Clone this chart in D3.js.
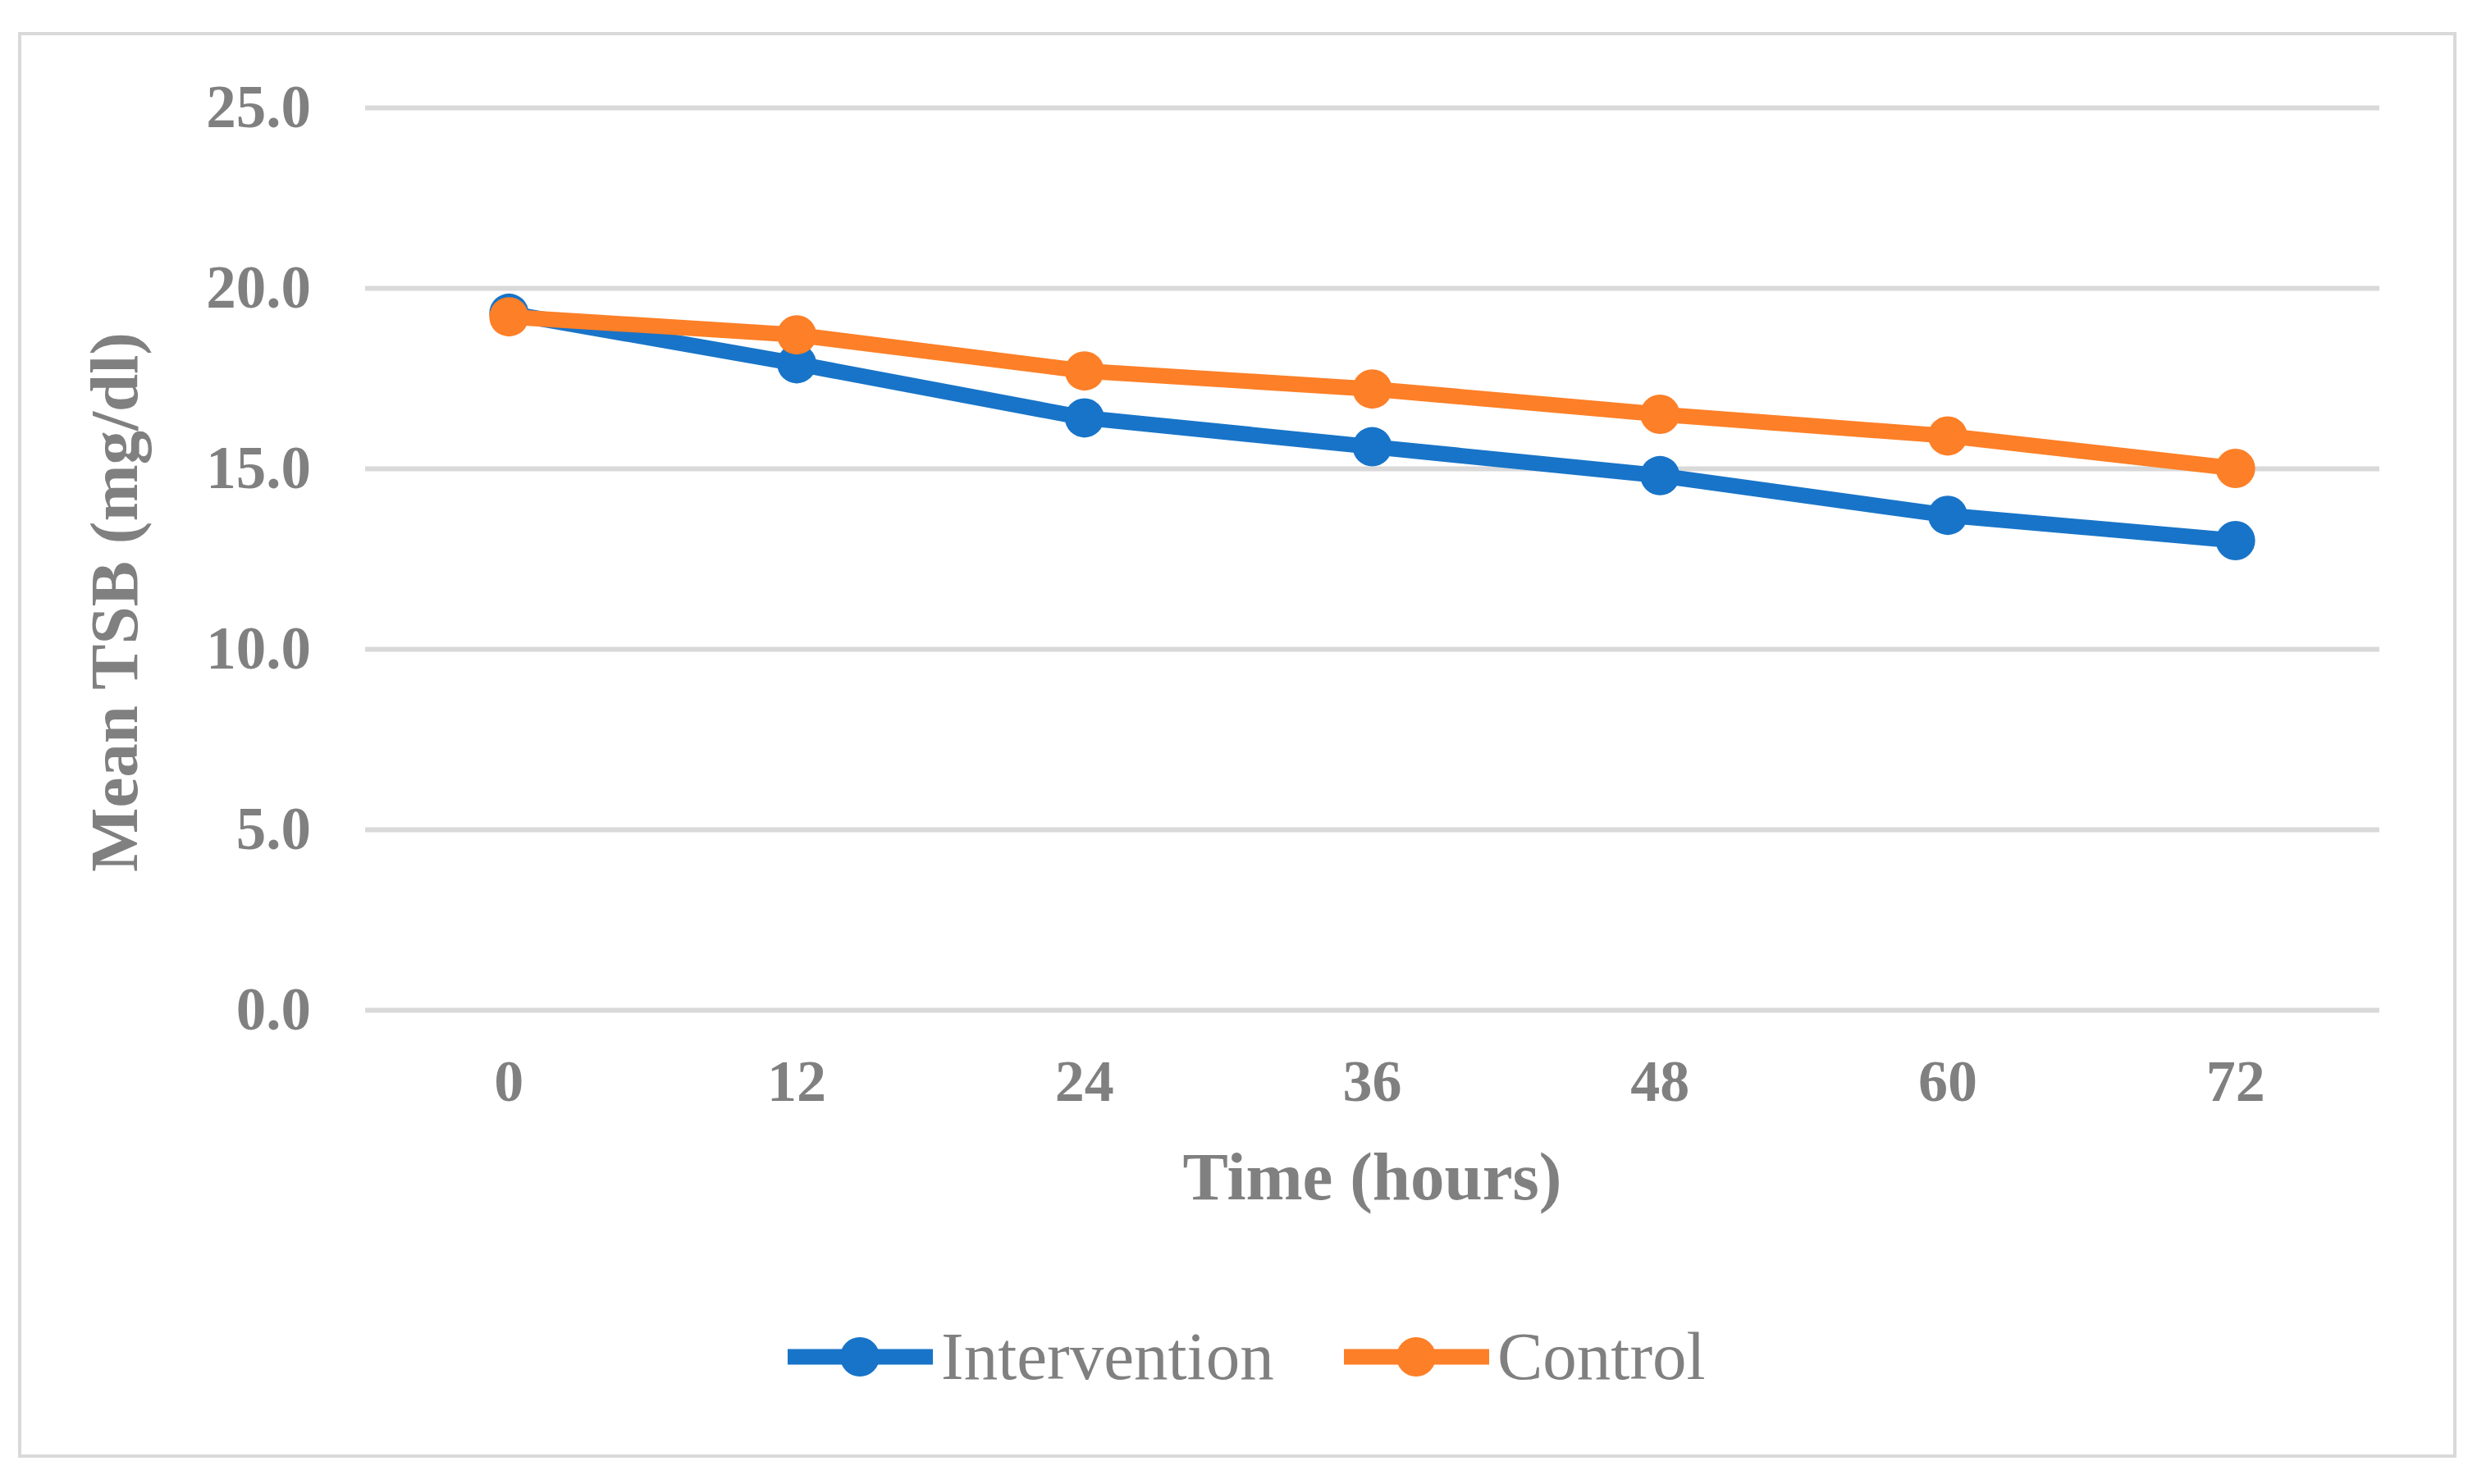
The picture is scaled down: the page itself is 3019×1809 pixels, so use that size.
<!DOCTYPE html>
<html>
<head>
<meta charset="utf-8">
<script src="https://d3js.org/d3.v7.min.js"></script>
<style>
  body { margin: 0; background: #fff; }
  text { font-family: "Liberation Serif", "Times New Roman", serif; fill: #808080; }
</style>
</head>
<body>
<div id="viz_div"></div>
<script>
// hours after start
var hours = ["0", "12", "24", "36", "48", "60", "72"];
var y_ticks = [0, 5, 10, 15, 20, 25];

// mean TSB, mg/dl
var intervention = [19.3, 17.9, 16.4, 15.6, 14.8, 13.7, 13.0];
var control      = [19.2, 18.7, 17.7, 17.2, 16.5, 15.9, 15.0];

var series_names  = ["Intervention", "Control"];
var series_colors = ["#1874c8", "#fd7f27"];

var w = 3019,
    h = 1809;

var plot = { left: 445, right: 2900, top: 131, bottom: 1231 };

var x = d3.scaleBand()
          .domain(hours)
          .range([plot.left, plot.right]);

var y = d3.scaleLinear()
          .domain([0, 25])
          .range([plot.bottom, plot.top]);

function generate_viz() {
	var svg = d3.select("#viz_div")
				.append("svg")
				.attr("width", w)
				.attr("height", h);

	// chart border
	svg.append("rect")
		.attr("x", 24).attr("y", 41)
		.attr("width", 2968).attr("height", 1734)
		.attr("fill", "none")
		.attr("stroke", "#d9d9d9")
		.attr("stroke-width", 4);

	// gridlines + y labels
	var y_axis = d3.axisLeft(y)
					.tickValues(y_ticks)
					.tickSize(-(plot.right - plot.left))
					.tickPadding(66)
					.tickFormat(d3.format(".1f"));
	var gy = svg.append("g")
				.attr("transform", "translate(" + plot.left + ",0)")
				.call(y_axis);
	gy.select(".domain").remove();
	gy.selectAll("line").attr("stroke", "#d9d9d9").attr("stroke-width", 6);
	gy.selectAll("text")
		.attr("fill", "#808080")
		.style("font-size", "73px")
		.style("font-weight", "bold");

	// x labels
	var x_axis = d3.axisBottom(x).tickSize(0).tickPadding(0);
	var gx = svg.append("g")
				.attr("transform", "translate(0," + plot.bottom + ")")
				.call(x_axis);
	gx.select(".domain").remove();
	gx.selectAll("text")
		.attr("fill", "#808080")
		.attr("dy", null)
		.attr("y", 111)
		.style("font-size", "72px")
		.style("font-weight", "bold");

	// axis titles
	svg.append("text")
		.attr("x", (plot.left + plot.right) / 2)
		.attr("y", 1462)
		.attr("text-anchor", "middle")
		.style("font-size", "83px")
		.style("font-weight", "bold")
		.text("Time (hours)");

	svg.append("text")
		.attr("transform", "translate(167,734) rotate(-90)")
		.attr("text-anchor", "middle")
		.style("font-size", "83px")
		.style("font-weight", "bold")
		.text("Mean TSB (mg/dl)");

	// series
	var all_series = [intervention, control];
	var line = d3.line()
				.x(function(d, i) { return x(hours[i]) + x.bandwidth() / 2; })
				.y(function(d) { return y(d); });

	all_series.forEach(function(vals, s) {
		var g = svg.append("g");
		g.append("path")
			.datum(vals)
			.attr("d", line)
			.attr("fill", "none")
			.attr("stroke", series_colors[s])
			.attr("stroke-width", 19)
			.attr("stroke-linejoin", "round");
		g.selectAll("circle")
			.data(vals)
			.enter()
			.append("circle")
			.attr("cx", function(d, i) { return x(hours[i]) + x.bandwidth() / 2; })
			.attr("cy", function(d) { return y(d); })
			.attr("r", 24)
			.attr("fill", series_colors[s]);
	});

	// legend
	var legend_x = [960, 1638];
	var legend = svg.selectAll(".legend")
					.data(series_names)
					.enter()
					.append("g")
					.attr("class", "legend")
					.attr("transform", function(d, i) { return "translate(" + legend_x[i] + ",1654)"; });
	legend.append("line")
		.attr("x1", 0).attr("x2", 177)
		.attr("y1", 0).attr("y2", 0)
		.attr("stroke", function(d, i) { return series_colors[i]; })
		.attr("stroke-width", 19);
	legend.append("circle")
		.attr("cx", 88).attr("cy", 0).attr("r", 24)
		.attr("fill", function(d, i) { return series_colors[i]; });
	legend.append("text")
		.attr("x", 187)
		.attr("y", 27)
		.style("font-size", "83px")
		.text(function(d) { return d; });
} // generate_viz()

generate_viz();
</script>
</body>
</html>
